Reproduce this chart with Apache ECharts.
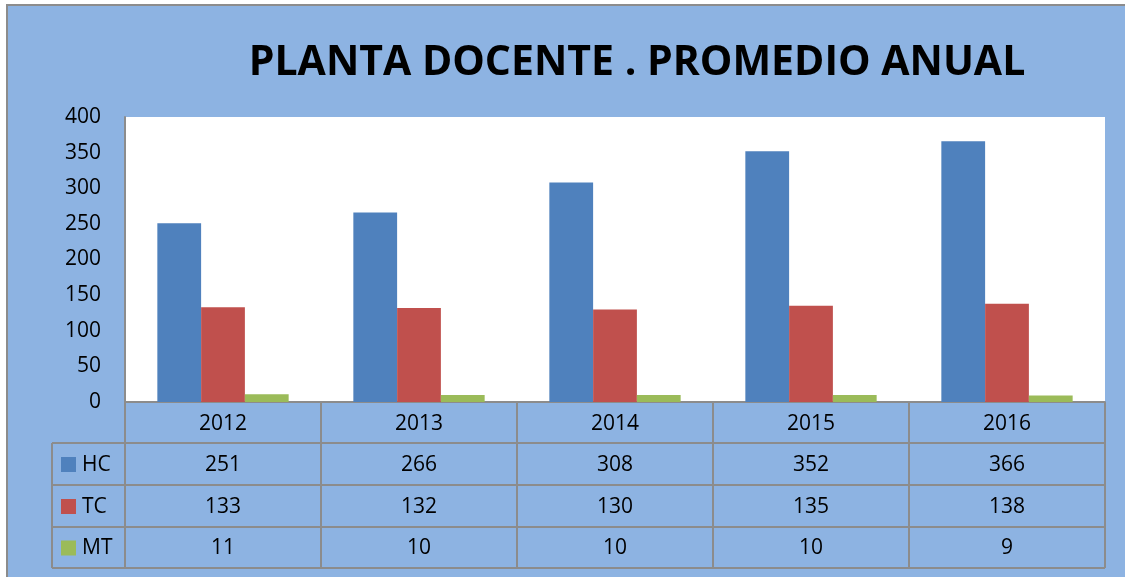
<!DOCTYPE html>
<html>
<head>
<meta charset="utf-8">
<script src="https://cdn.jsdelivr.net/npm/echarts@6/dist/echarts.min.js"></script>
<style>
  html, body { margin:0; padding:0; background:#fff; }
  #frame { position:absolute; left:6px; top:4px; width:1125px; height:580px; background:#8DB3E2; border-left:2px solid #8C8C8C; border-top:2px solid #8C8C8C; }
  #chart { position:absolute; left:0; top:0; width:1125px; height:577px; }
</style>
</head>
<body>
<div id="frame"></div>
<div id="chart"></div>
<script>
const titleText = 'PLANTA DOCENTE . PROMEDIO ANUAL';
const categories = ['2012', '2013', '2014', '2015', '2016'];
const seriesNames = ['HC', 'TC', 'MT'];
const hcValues = [251, 266, 308, 352, 366];
const tcValues = [133, 132, 130, 135, 138];
const mtValues = [11, 10, 10, 10, 9];
const yMin = 0, yMax = 400, yStep = 50;

const colors = ['#4F81BD', '#C0504D', '#9BBB59'];
const allValues = [hcValues, tcValues, mtValues];
const FONT = 'Open Sans';
const lineColor = '#8C8C8C';

const chart = echarts.init(document.getElementById('chart'), null, {renderer: 'canvas'});
const option = {
  backgroundColor: 'transparent',
  animation: false,
  textStyle: { fontFamily: FONT },
  title: {
    text: titleText,
    left: 632, top: 38, textAlign: 'center',
    textStyle: { fontFamily: FONT, fontWeight: 'bold', fontSize: 41, color: '#000' }
  },
  grid: { left: 125, right: 20, top: 117, bottom: 175, show: true, backgroundColor: '#fff', borderWidth: 0 },
  xAxis: {
    type: 'category', data: categories,
    axisLine: { lineStyle: { color: lineColor, width: 2 } },
    axisTick: { show: true, length: 41, lineStyle: { color: lineColor, width: 2 } },
    axisLabel: { margin: 12, fontSize: 21, color: '#000', fontFamily: FONT }
  },
  yAxis: {
    type: 'value', min: yMin, max: yMax, interval: yStep,
    axisLine: { show: true, lineStyle: { color: lineColor, width: 2 } },
    axisTick: { show: false },
    splitLine: { show: false },
    axisLabel: { margin: 24, fontSize: 21, color: '#000', fontFamily: FONT }
  },
  series: seriesNames.map((n, i) => ({
    name: n, type: 'bar', data: allValues[i],
    barGap: '0%', barCategoryGap: '33%',
    itemStyle: { color: colors[i] }
  }))
};
chart.setOption(option);

// Build the data table below the axis from the axis scale
const centers = categories.map(c => chart.convertToPixel({xAxisIndex: 0}, c));
const half = (centers[1] - centers[0]) / 2;
const edges = centers.map(c => c - half).concat([centers[centers.length - 1] + half]);
const yTop = chart.convertToPixel({yAxisIndex: 0}, 0);
const rowTops = [yTop + 41, yTop + 83, yTop + 125];
const rowBottom = yTop + 166;
const tableLeft = 52;
const g = [];
const ls = { stroke: lineColor, lineWidth: 2 };
rowTops.concat([rowBottom]).forEach(y => {
  g.push({ type: 'line', shape: { x1: tableLeft, y1: y, x2: edges[edges.length - 1], y2: y }, style: ls, z: 100 });
});
edges.forEach(x => {
  g.push({ type: 'line', shape: { x1: x, y1: yTop, x2: x, y2: rowBottom }, style: ls, z: 100 });
});
g.push({ type: 'line', shape: { x1: tableLeft, y1: rowTops[0], x2: tableLeft, y2: rowBottom }, style: ls, z: 100 });
seriesNames.forEach((n, r) => {
  const y0 = rowTops[r];
  const y1 = r < 2 ? rowTops[r + 1] : rowBottom;
  const cy = (y0 + y1) / 2 + 1;
  g.push({ type: 'rect', shape: { x: 61, y: cy - 8, width: 15, height: 15 }, style: { fill: colors[r] }, z: 100 });
  g.push({ type: 'text', x: 82, y: cy, style: { text: n, font: '21px "' + FONT + '"', fill: '#000', verticalAlign: 'middle', align: 'left' }, z: 100 });
  allValues[r].forEach((v, i) => {
    g.push({ type: 'text', x: centers[i], y: cy, style: { text: String(v), font: '21px "' + FONT + '"', fill: '#000', verticalAlign: 'middle', align: 'center' }, z: 100 });
  });
});
chart.setOption({ graphic: g });
</script>
</body>
</html>
